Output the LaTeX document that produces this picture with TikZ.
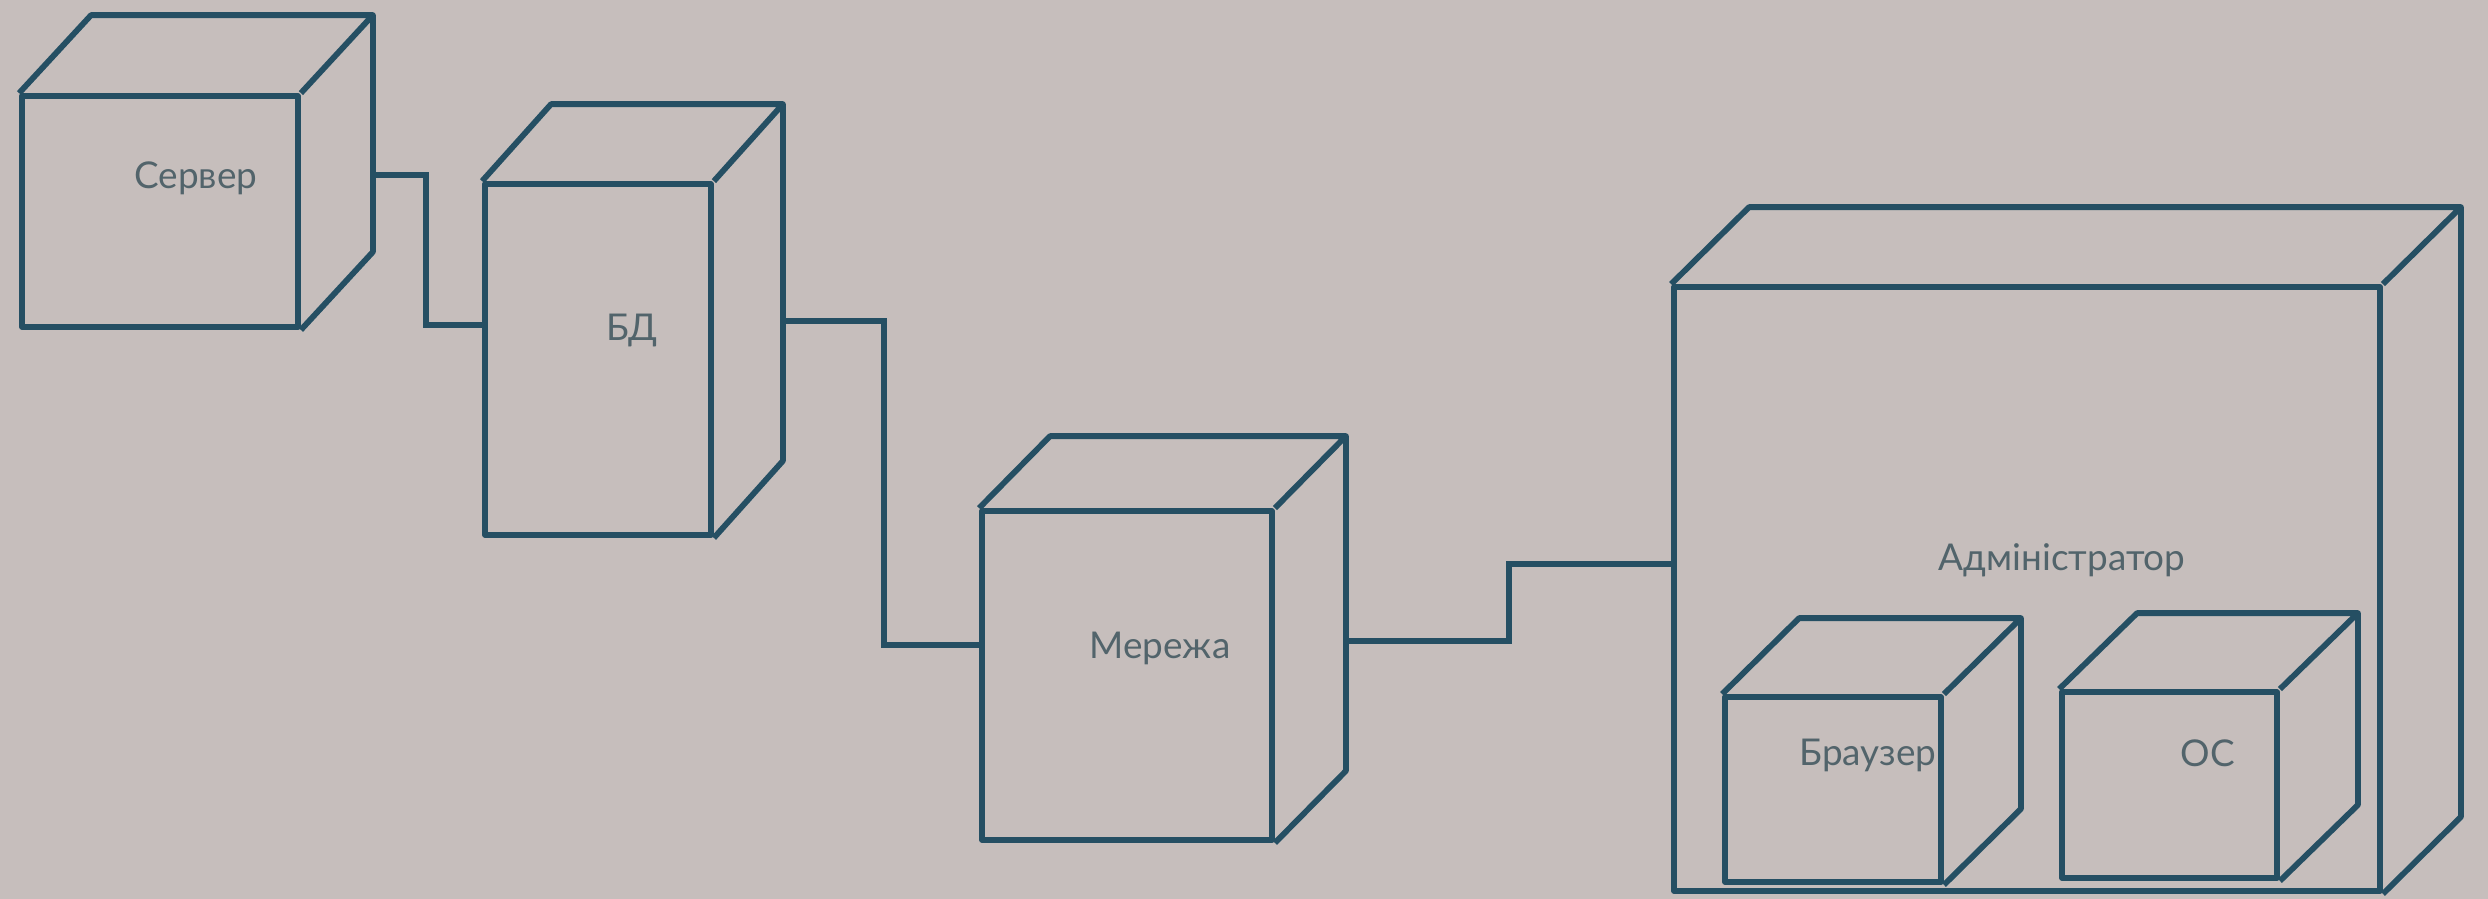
\documentclass[tikz,border=0pt]{standalone}
\usepackage{fontspec}
\setmainfont{Lato}
\usetikzlibrary{fit,calc}
\definecolor{bg}{HTML}{C6BEBC}
\definecolor{ln}{HTML}{254F63}
\definecolor{tx}{HTML}{52646B}
\newcommand\depthbox[3]{%
  \draw[edge] (#1.north west) -- ++(#2,#3) -- ($(#1.north east)+(#2,#3)$)
    -- ($(#1.south east)+(#2,#3)$) -- (#1.south east)
    (#1.north east) -- ++(#2,#3);}
\begin{document}
\begin{tikzpicture}[x=0.02cm,y=-0.02cm,
  face/.style={draw=ln, line width=3.3pt, inner sep=0pt, line join=round},
  edge/.style={draw=ln, line width=3.3pt, line join=round},
  conn/.style={draw=ln, line width=3.3pt},
  lbl/.style={text=tx, font=\fontsize{21}{24}\selectfont, inner sep=0pt}]
\fill[bg] (0,0) rectangle (2488,899);
\useasboundingbox (0,0) rectangle (2488,899);

% nodes (front faces)
\node[face, fit={(22,96) (298,327)}] (srv) {};
\node[face, fit={(485,184) (711,535)}] (bd) {};
\node[face, fit={(982,511) (1272,840)}] (net) {};
\node[face, fit={(1674,287) (2380,891)}] (adm) {};
\node[face, fit={(1725,697) (1941,882)}] (br) {};
\node[face, fit={(2062,692) (2277,878)}] (os) {};

\depthbox{srv}{72}{-78}
\depthbox{bd}{69}{-77}
\depthbox{net}{71}{-72}
\depthbox{adm}{78}{-77}
\depthbox{br}{77}{-76}
\depthbox{os}{78}{-76}

% labels
\node[lbl] (srvl) at (196,178) {Сервер};
\node[lbl] (bdl) at (632,330) {БД};
\node[lbl] (netl) at (1160,648) {Мережа};
\node[lbl] (adml) at (2062,560) {Адміністратор};
\node[lbl] (brl) at (1868,755) {Браузер};
\node[lbl] (osl) at (2208,753) {ОС};

% side-face edges
\coordinate (srvR) at ($(srv.east)+(72,0)$);
\coordinate (bdR) at ($(bd.east)+(69,0)$);
\coordinate (netR) at ($(net.east)+(71,0)$);

% connectors
\draw[conn] (srvR |- 0,175) -| (426,325) -- (bd.west |- 0,325);
\draw[conn] (bdR |- 0,321) -| (884,645) -- (net.west |- 0,645);
\draw[conn] (netR |- 0,641) -| (1509,564) -- (adm.west |- 0,564);
\end{tikzpicture}
\end{document}
